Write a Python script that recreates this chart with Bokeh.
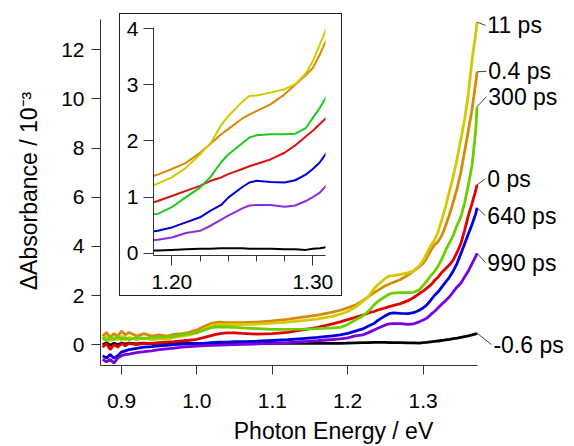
from bokeh.plotting import figure
from bokeh.layouts import column
from bokeh.models import Range1d, FixedTicker, LabelSet, ColumnDataSource, Arrow, PrintfTickFormatter
from bokeh.core.properties import value
from bokeh.embed import file_html
from bokeh.resources import INLINE

# ---------------- data (Delta absorbance in 10^-3) ----------------
energy = [0.875, 0.88, 0.885, 0.89, 0.895, 0.90, 0.905, 0.91, 0.92, 0.93, 0.94, 0.95, 0.96, 0.97, 0.98,
          0.99, 1.00, 1.01, 1.02, 1.03, 1.04, 1.05, 1.06, 1.08, 1.10, 1.12, 1.14, 1.16, 1.18,
          1.19, 1.20, 1.21, 1.22, 1.2275, 1.235, 1.24, 1.25, 1.255, 1.26, 1.27, 1.28, 1.2875, 1.295,
          1.30, 1.305, 1.31,
          1.315, 1.32, 1.325, 1.33, 1.335, 1.34, 1.345, 1.35, 1.355, 1.36, 1.365, 1.37, 1.3715]

s_11ps = [0.2, 0.35, 0.15, 0.3, 0.2, 0.35, 0.2, 0.3, 0.2, 0.28, 0.2, 0.25, 0.22, 0.3, 0.35,
          0.4, 0.48, 0.62, 0.78, 0.83, 0.82, 0.82, 0.82, 0.84, 0.88, 0.92, 0.98, 1.05, 1.15,
          1.24, 1.35, 1.52, 1.76, 1.96, 2.28, 2.44, 2.70, 2.80, 2.81, 2.86, 2.92, 3.01, 3.2,
          3.42, 3.72, 4.02,
          4.25, 4.6, 5.1, 5.64, 6.25, 6.85, 7.55, 8.35, 9.15, 10.2, 11.6, 12.7, 13.12]
s_04ps = [0.35, 0.5, 0.3, 0.45, 0.35, 0.55, 0.4, 0.5, 0.35, 0.45, 0.35, 0.4, 0.35, 0.42, 0.45,
          0.5, 0.6, 0.75, 0.88, 0.92, 0.9, 0.9, 0.9, 0.92, 0.97, 1.03, 1.12, 1.2, 1.32,
          1.40, 1.50, 1.61, 1.79, 1.95, 2.12, 2.21, 2.40, 2.47, 2.53, 2.65, 2.83, 3.0, 3.17,
          3.30, 3.54, 3.82,
          4.05, 4.2, 4.45, 4.85, 5.3, 5.8, 6.35, 7.0, 7.85, 8.7, 9.6, 10.7, 11.1]
s_300ps = [0.3, 0.15, 0.3, 0.2, 0.35, 0.2, 0.3, 0.2, 0.3, 0.25, 0.3, 0.3, 0.32, 0.35, 0.4,
           0.45, 0.5, 0.6, 0.7, 0.73, 0.72, 0.7, 0.68, 0.65, 0.62, 0.62, 0.63, 0.65, 0.68,
           0.70, 0.82, 1.0, 1.17, 1.36, 1.62, 1.76, 1.96, 2.06, 2.10, 2.12, 2.12, 2.13, 2.23,
           2.41, 2.59, 2.80,
           2.97, 3.2, 3.5, 3.85, 4.15, 4.45, 4.85, 5.2, 5.75, 6.5, 7.3, 8.8, 9.68]
s_0ps = [-0.1, 0.05, -0.2, 0.0, -0.1, 0.05, -0.05, 0.05, 0.0, 0.05, 0.05, 0.08, 0.1, 0.12, 0.15,
         0.18, 0.22, 0.3, 0.38, 0.45, 0.48, 0.48, 0.46, 0.43, 0.45, 0.5, 0.6, 0.7, 0.85,
         0.93, 1.02, 1.11, 1.20, 1.29, 1.35, 1.41, 1.50, 1.55, 1.59, 1.67, 1.79, 1.92, 2.08,
         2.18, 2.30, 2.42,
         2.6, 2.75, 2.95, 3.1, 3.25, 3.45, 3.75, 4.1, 4.65, 5.25, 5.75, 6.3, 6.5]
s_640ps = [-0.45, -0.55, -0.4, -0.55, -0.45, -0.3, -0.25, -0.2, -0.15, -0.1, -0.08, -0.05, -0.03, 0.0, 0.02,
           0.03, 0.05, 0.06, 0.08, 0.1, 0.1, 0.12, 0.12, 0.14, 0.17, 0.2, 0.25, 0.3, 0.36,
           0.40, 0.46, 0.55, 0.64, 0.76, 0.86, 0.99, 1.18, 1.26, 1.29, 1.27, 1.26, 1.30, 1.40,
           1.50, 1.62, 1.80,
           2.0, 2.15, 2.35, 2.55, 2.75, 3.0, 3.3, 3.7, 4.1, 4.5, 4.9, 5.35, 5.57]
s_990ps = [-0.6, -0.7, -0.6, -0.75, -0.55, -0.45, -0.4, -0.38, -0.32, -0.28, -0.25, -0.2, -0.17, -0.14, -0.1,
           -0.08, -0.06, -0.04, -0.03, -0.02, -0.01, 0.0, 0.01, 0.03, 0.05, 0.08, 0.12, 0.16, 0.21,
           0.24, 0.28, 0.36, 0.40, 0.49, 0.60, 0.67, 0.80, 0.85, 0.86, 0.86, 0.83, 0.85, 0.93,
           1.00, 1.08, 1.22,
           1.35, 1.5, 1.65, 1.8, 1.95, 2.15, 2.35, 2.5, 2.75, 3.0, 3.3, 3.6, 3.72]
s_m06ps = [0.0, 0.08, -0.02, 0.06, 0.0, 0.07, 0.02, 0.06, 0.03, 0.06, 0.04, 0.06, 0.05, 0.06, 0.05,
           0.05, 0.05, 0.05, 0.05, 0.05, 0.05, 0.05, 0.05, 0.05, 0.05, 0.05, 0.05, 0.05, 0.05,
           0.05, 0.06, 0.07, 0.08, 0.08, 0.09, 0.09, 0.09, 0.08, 0.08, 0.08, 0.07, 0.07, 0.06,
           0.08, 0.09, 0.11,
           0.13, 0.15, 0.17, 0.2, 0.22, 0.25, 0.27, 0.3, 0.33, 0.36, 0.4, 0.44, 0.47]

labels = ["11 ps", "0.4 ps", "300 ps", "0 ps", "640 ps", "990 ps", "-0.6 ps"]
series = [s_11ps, s_04ps, s_300ps, s_0ps, s_640ps, s_990ps, s_m06ps]
main_ticks_x = [0.9, 1.0, 1.1, 1.2, 1.3]
main_ticks_y = [0, 2, 4, 6, 8, 10, 12]
inset_ticks_x = [1.20, 1.30]
inset_minor_x = [1.22, 1.24, 1.26, 1.28]
inset_ticks_y = [0, 1, 2, 3, 4]

# ---------------- styling / placement ----------------
main_colors = ["#d4c800", "#d68a0a", "#6fcc00", "#e00000", "#0000dd", "#7a00dd", "#000000"]
inset_colors = ["#d4c800", "#d68a0a", "#1ec81e", "#e01010", "#0000dd", "#8a2ee0", "#000000"]
draw_order = [6, 3, 1, 0, 2, 4, 5]
label_y = [12.99, 11.12, 10.09, 6.75, 5.24, 3.34, 0.0]
label_x = [1.3852, 1.3865, 1.3865, 1.3852, 1.3852, 1.3852, 1.3932]
FONT = "Liberation Sans"
X_AXIS_END = 1.372
Y_AXIS_TOP = 13.23

p = figure(width=570, height=446, x_range=Range1d(0.87215, 1.49018), y_range=Range1d(-0.847, 13.35),
           output_backend="svg", toolbar_location=None,
           min_border_left=100, min_border_right=4, min_border_top=16, min_border_bottom=73)
p.frame_align = False
p.outline_line_color = None
p.grid.grid_line_color = None
p.background_fill_color = "white"
p.border_fill_color = "white"

for ax, ticks in ((p.xaxis[0], main_ticks_x), (p.yaxis[0], main_ticks_y)):
    ax.ticker = FixedTicker(ticks=ticks)
    ax.major_tick_out = 9
    ax.major_tick_in = 0
    ax.minor_tick_line_color = None
    ax.axis_line_color = "#333333"
    ax.major_tick_line_color = "#333333"
    ax.major_label_text_font = FONT
    ax.major_label_text_font_size = "21px"
    ax.major_label_text_color = "black"
    ax.axis_label_text_font = FONT
    ax.axis_label_text_font_style = "normal"
    ax.axis_label_text_font_size = "23px"
    ax.axis_label_text_color = "black"

p.xaxis[0].bounds = (0.87215, X_AXIS_END)
p.yaxis[0].bounds = (-0.847, Y_AXIS_TOP)
p.xaxis[0].formatter = PrintfTickFormatter(format="%.1f")
p.xaxis[0].major_label_standoff = 19
p.xaxis[0].axis_label = "Photon Energy / eV"
p.xaxis[0].axis_label_standoff = 7
p.yaxis[0].major_label_standoff = 7
p.yaxis[0].axis_label = "ΔAbsorbance / 10⁻³"
p.yaxis[0].axis_label_standoff = 16

for i in draw_order:
    p.line(energy, series[i], line_color=main_colors[i], line_width=2.8)

# leader lines and trace labels
for i in range(len(labels)):
    p.add_layout(Arrow(end=None, x_start=energy[-1], y_start=series[i][-1],
                       x_end=label_x[i] - 0.0025, y_end=label_y[i],
                       line_color="#444444", line_width=1))
lab_src = ColumnDataSource(dict(x=label_x, y=label_y, text=labels))
p.add_layout(LabelSet(x="x", y="y", text="text", source=lab_src, text_align="left",
                      text_baseline="middle", text_font=value(FONT), text_font_size=value("23px"),
                      text_color="black"))

# ---------------- inset ----------------
inset = figure(width=221, height=281, x_range=Range1d(1.187, 1.309), y_range=Range1d(-0.04, 4.02),
               output_backend="svg", toolbar_location=None,
               min_border_left=33, min_border_right=16, min_border_top=13, min_border_bottom=40,
               margin=(14 - 446, 0, 0, 120), styles={"outline": "1px solid #222222"})
inset.frame_align = False
inset.outline_line_color = None
inset.grid.grid_line_color = None
inset.background_fill_color = "white"
inset.border_fill_color = "white"
inset.xaxis[0].ticker = FixedTicker(ticks=inset_ticks_x, minor_ticks=inset_minor_x)
inset.xaxis[0].formatter = PrintfTickFormatter(format="%.2f")
inset.yaxis[0].ticker = FixedTicker(ticks=inset_ticks_y)
for ax in (inset.xaxis[0], inset.yaxis[0]):
    ax.major_tick_out = 10
    ax.major_tick_in = 0
    ax.minor_tick_out = 6
    ax.minor_tick_in = 0
    ax.axis_line_color = "#333333"
    ax.major_tick_line_color = "#333333"
    ax.minor_tick_line_color = "#333333"
    ax.major_label_text_font = FONT
    ax.major_label_text_font_size = "21px"
    ax.major_label_text_color = "black"
inset.yaxis[0].minor_tick_line_color = None
inset.xaxis[0].major_label_standoff = 9
inset.yaxis[0].major_label_standoff = 5

for i in draw_order:
    inset.line(energy, series[i], line_color=inset_colors[i], line_width=2)

layout = column(p, inset, spacing=0)
open("out.html", "w").write(file_html(layout, INLINE))
